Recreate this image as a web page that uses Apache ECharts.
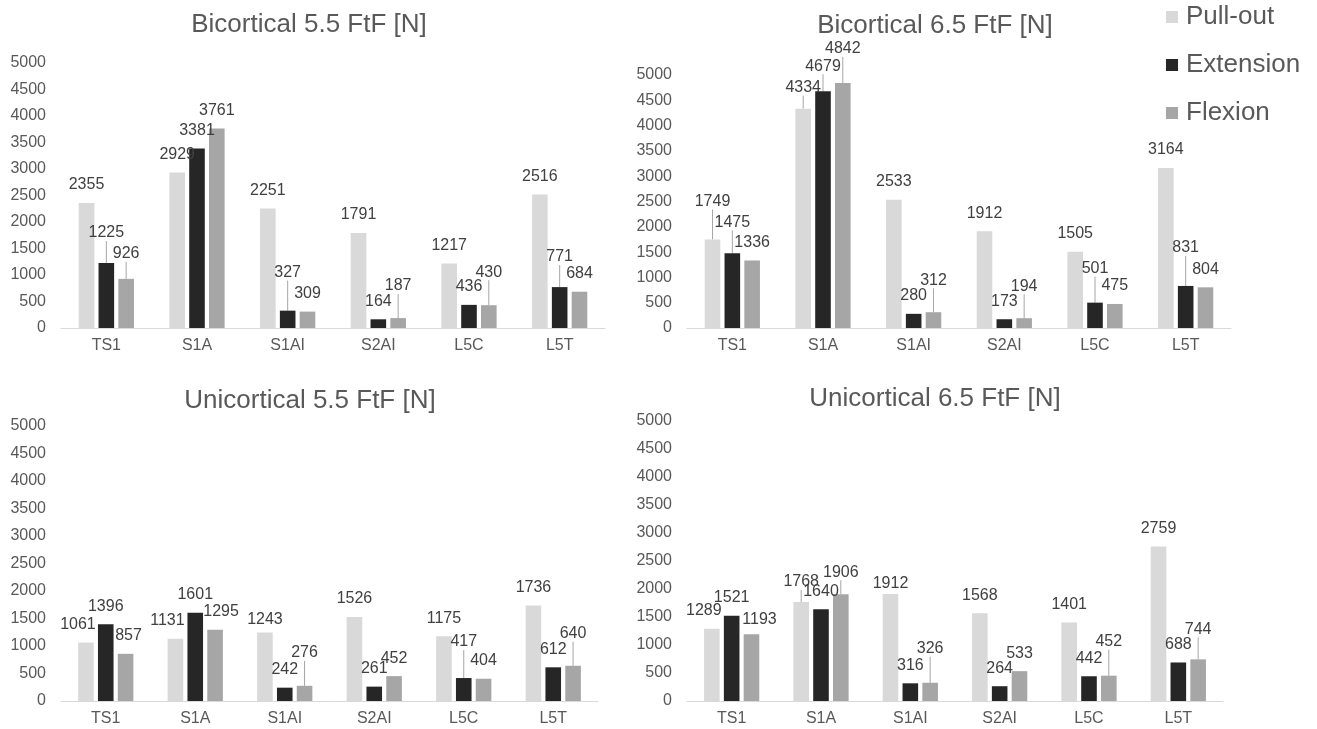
<!DOCTYPE html>
<html><head><meta charset="utf-8">
<script src="https://cdn.jsdelivr.net/npm/echarts@6/dist/echarts.min.js"></script>
<style>html,body{margin:0;padding:0;background:#fff}#c{width:1317px;height:729px}</style>
</head><body><div id="c"></div>
<script>
// ---------- data ----------
const categories = ['TS1', 'S1A', 'S1AI', 'S2AI', 'L5C', 'L5T'];
const seriesNames = ['Pull-out', 'Extension', 'Flexion'];
const panelTitles = ['Bicortical 5.5 FtF [N]', 'Bicortical 6.5 FtF [N]', 'Unicortical 5.5 FtF [N]', 'Unicortical 6.5 FtF [N]'];
const yMin = 0, yMax = 5000, yStep = 500;

const bi55Pull = [2355, 2929, 2251, 1791, 1217, 2516];
const bi55Ext  = [1225, 3381, 327, 164, 436, 771];
const bi55Flex = [926, 3761, 309, 187, 430, 684];

const bi65Pull = [1749, 4334, 2533, 1912, 1505, 3164];
const bi65Ext  = [1475, 4679, 280, 173, 501, 831];
const bi65Flex = [1336, 4842, 312, 194, 475, 804];

const uni55Pull = [1061, 1131, 1243, 1526, 1175, 1736];
const uni55Ext  = [1396, 1601, 242, 261, 417, 612];
const uni55Flex = [857, 1295, 276, 452, 404, 640];

const uni65Pull = [1289, 1768, 1912, 1568, 1401, 2759];
const uni65Ext  = [1521, 1640, 316, 264, 442, 688];
const uni65Flex = [1193, 1906, 326, 533, 452, 744];

const panelData = [
  [bi55Pull, bi55Ext, bi55Flex],
  [bi65Pull, bi65Ext, bi65Flex],
  [uni55Pull, uni55Ext, uni55Flex],
  [uni65Pull, uni65Ext, uni65Flex]
];

// ---------- styling / layout ----------
const colors = ['#d9d9d9', '#262626', '#a6a6a6'];
const textColor = '#595959';
const FONT = 'Arial, "Liberation Sans", sans-serif';

const grids = [
  {left: 61, top: 62.7, width: 544, height: 265.3},
  {left: 687, top: 75, width: 544, height: 253},
  {left: 61, top: 425.7, width: 537, height: 275.3},
  {left: 687, top: 421, width: 536, height: 280}
];
const titlePos = [[309, 25], [935, 26], [310, 401], [935, 399]];

// label offsets [dx, dy, leaderLine] per panel / series / category
const Z = [0, 0, 0];
const labelOffsets = [
  [
    [Z, Z, Z, Z, Z, Z],
    [[0, -12, 1], Z, [0, -20, 1], Z, Z, [0, -12, 1]],
    [[0, -7, 1], Z, Z, [0, -14, 1], [0, -15, 1], Z]
  ],
  [
    [[0, -20, 1], [0, -3, 1], Z, Z, Z, Z],
    [[0, -13, 1], [0, -7, 1], Z, Z, [0, -16, 1], [0, -20, 1]],
    [Z, [0, -16, 1], [0, -14, 1], [0, -14, 1], Z, Z]
  ],
  [
    [[-8, 0, 0], [-8, 0, 0], [0, 5, 0], Z, Z, Z],
    [Z, Z, Z, Z, [0, -18, 1], Z],
    [[3, 0, 0], [6, 0, 0], [0, -15, 1], Z, Z, [0, -14, 1]]
  ],
  [
    [[-8, 0, 0], [0, -2, 1], [0, 8, 0], Z, Z, Z],
    [Z, Z, Z, Z, Z, Z],
    [[8, 3, 0], [0, -4, 1], [0, -16, 1], Z, [0, -16, 1], [0, -12, 1]]
  ]
];

const xAxes = [], yAxes = [], series = [], graphics = [];
grids.forEach((g, p) => {
  xAxes.push({
    type: 'category', gridIndex: p, data: categories,
    axisLine: {lineStyle: {color: '#d9d9d9', width: 1}},
    axisTick: {show: false},
    axisLabel: {color: textColor, fontSize: 16, fontFamily: FONT, margin: 10}
  });
  yAxes.push({
    type: 'value', gridIndex: p, min: yMin, max: yMax, interval: yStep,
    axisLine: {show: false}, axisTick: {show: false}, splitLine: {show: false},
    axisLabel: {color: textColor, fontSize: 16, fontFamily: FONT, margin: 15,
      formatter: function (v) { return String(v); }}
  });
  graphics.push({
    type: 'text', x: titlePos[p][0], y: titlePos[p][1],
    style: {text: panelTitles[p], fill: textColor, font: '26px ' + FONT, align: 'center', verticalAlign: 'middle'}
  });
  panelData[p].forEach((vals, s) => {
    series.push({
      name: seriesNames[s], type: 'bar', xAxisIndex: p, yAxisIndex: p,
      barWidth: 15.6, barGap: '27%',
      itemStyle: {color: colors[s]},
      label: {show: true, position: 'top', distance: 10, color: '#404040', fontSize: 16, fontFamily: FONT},
      labelLayout: function (params) {
        const o = labelOffsets[p][s][params.dataIndex];
        return {dx: o[0], dy: o[1]};
      },
      data: vals.map((v, i) => {
        const o = labelOffsets[p][s][i];
        const item = {value: v};
        if (o[2]) item.labelLine = {show: true, lineStyle: {color: '#a6a6a6', width: 1}};
        return item;
      })
    });
  });
});

const chart = echarts.init(document.getElementById('c'), null, {renderer: 'canvas'});
chart.setOption({
  animation: false,
  backgroundColor: '#ffffff',
  textStyle: {fontFamily: FONT},
  grid: grids,
  xAxis: xAxes,
  yAxis: yAxes,
  legend: {
    orient: 'vertical', left: 1166, top: 4, padding: 0,
    itemWidth: 12, itemHeight: 12, itemGap: 22,
    icon: 'rect',
    data: seriesNames,
    textStyle: {color: textColor, fontSize: 26, fontFamily: FONT, padding: [0, 0, 0, 3]}
  },
  graphic: graphics,
  series: series
});
</script>
</body></html>
